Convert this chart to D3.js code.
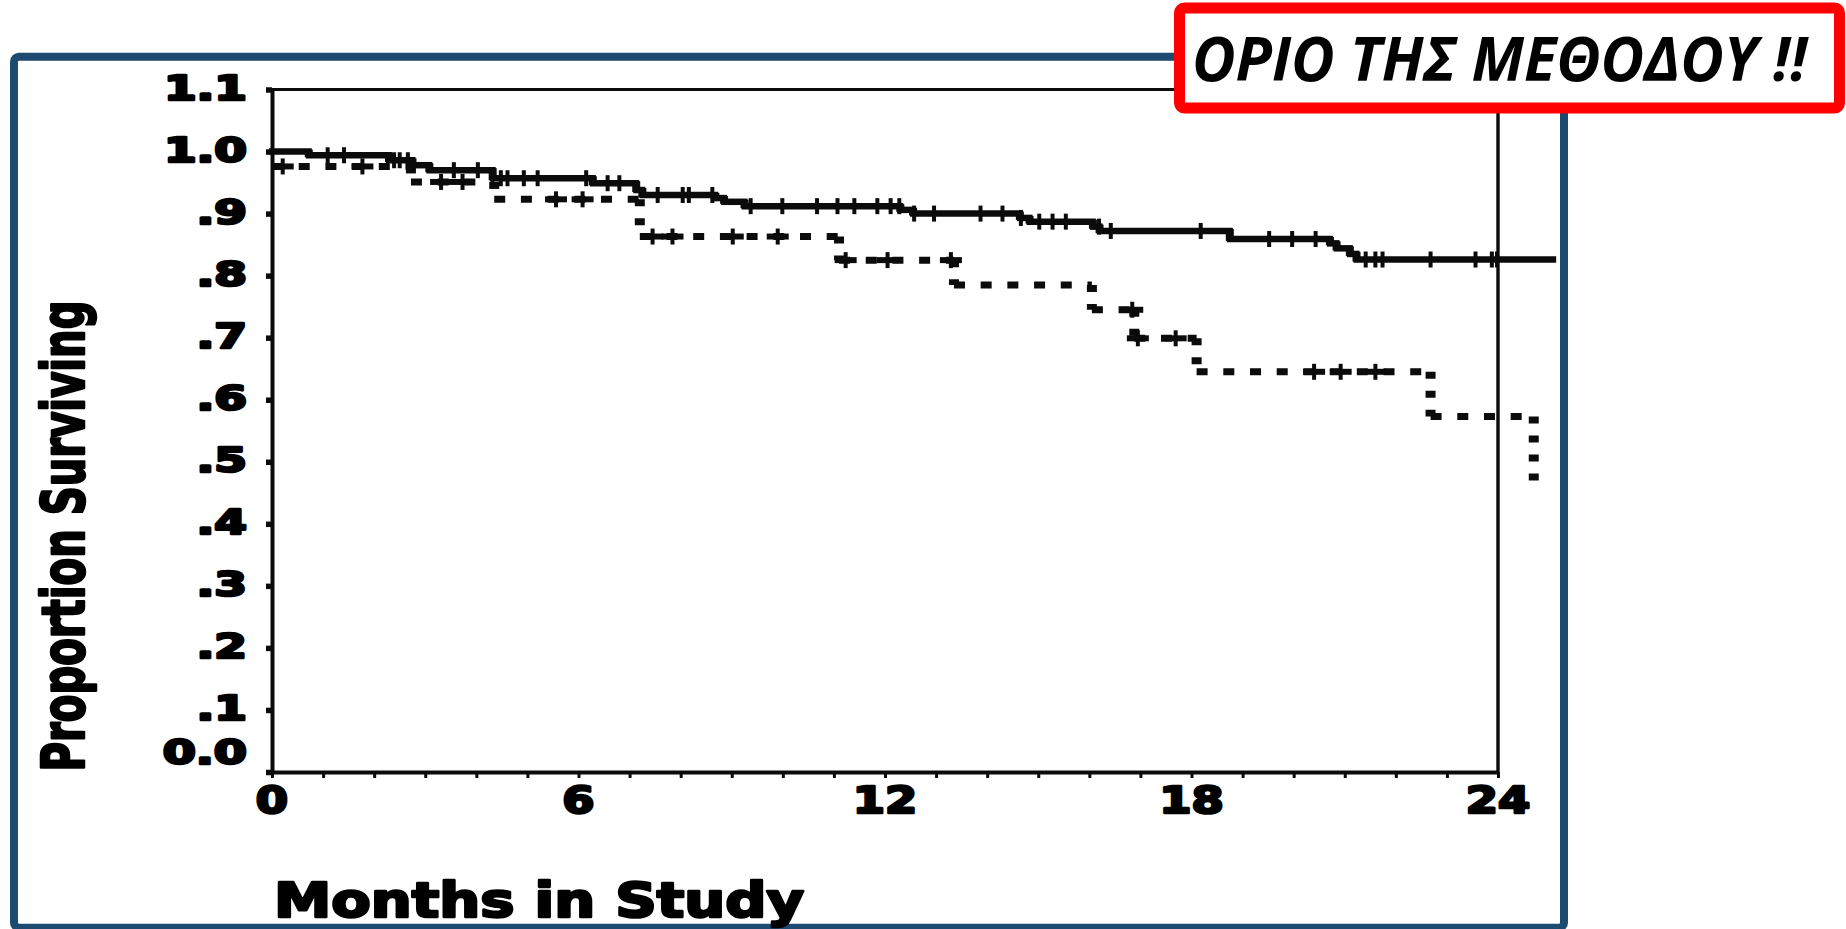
<!DOCTYPE html>
<html>
<head>
<meta charset="utf-8">
<script src="https://cdn.jsdelivr.net/npm/d3@7"></script>
<style>
  html, body { margin: 0; padding: 0; background: #fff; overflow: hidden; }
  svg { display: block; }
</style>
</head>
<body>
<svg id="chart" width="1846" height="929"></svg>
<script>
// Kaplan–Meier steps: month of each step and proportion surviving after it
const solidTimes = [0, 0.72, 2.29, 2.75, 3.08, 4.32, 6.28, 7.13, 7.25, 8.68, 8.85, 9.25, 12.3, 12.55, 14.64, 14.83, 16.07, 16.2, 18.75, 20.71, 20.84, 21.1, 21.23];
const solidSurv  = [1.0, 0.994, 0.986, 0.978, 0.970, 0.957, 0.949, 0.938, 0.930, 0.925, 0.919, 0.912, 0.906, 0.900, 0.893, 0.887, 0.879, 0.872, 0.859, 0.852, 0.844, 0.835, 0.826];
const solidEnd = 25.08;
// censored observations (months)
const solidCensored = [1.09, 1.41, 2.39, 2.5, 2.66, 3.56, 4.03, 4.48, 4.61, 4.93, 5.2, 6.15, 6.57, 6.8, 7.55, 8.04, 8.16, 8.62, 9.37, 9.99, 10.67, 11.07, 11.4, 11.85, 12.11, 12.28, 12.57, 12.96, 13.87, 14.3, 14.66, 15.02, 15.28, 15.54, 16.19, 16.42, 18.18, 19.52, 19.97, 20.43, 21.41, 21.6, 21.74, 22.68, 23.56, 23.88, 23.98];

const dashedTimes = [0, 2.72, 4.35, 7.2, 11.1, 13.35, 16.05, 16.88, 18.1, 22.68, 24.7];
const dashedSurv  = [0.976, 0.951, 0.923, 0.863, 0.825, 0.785, 0.745, 0.699, 0.645, 0.573, 0.46];
const dashedEnd = 24.7;
const dashedCensored = [0.21, 1.77, 3.31, 3.73, 5.56, 6.08, 7.45, 7.84, 9.02, 9.9, 11.23, 12.05, 13.29, 16.84, 16.95, 17.69, 20.4, 20.92, 21.6];

// axes
const xMajorTicks = [0, 6, 12, 18, 24];
const xMajorLabels = ["0", "6", "12", "18", "24"];
const xMinorTicks = d3.range(0, 25);
const yTickValues = [0, 0.1, 0.2, 0.3, 0.4, 0.5, 0.6, 0.7, 0.8, 0.9, 1.0, 1.1];
const yTickLabels = ["0.0", ".1", ".2", ".3", ".4", ".5", ".6", ".7", ".8", ".9", "1.0", "1.1"];

const xTitle = "Months in Study";
const yTitle = "Proportion Surviving";
const banner = "ΟΡΙΟ ΤΗΣ ΜΕΘΟΔΟΥ !!";

const svg = d3.select("#chart");
const ink = "#0b0b0b";
const frameBlue = "#1c4a70";
const heavy = "DejaVu Sans, sans-serif";

const x = d3.scaleLinear().domain([0, 24]).range([272, 1498]);
const y = d3.scaleLinear().domain([0, 1.1]).range([772, 89.5]);

// slide frame
svg.append("rect")
  .attr("x", 14).attr("y", 56.7).attr("width", 1550).attr("height", 871)
  .attr("rx", 5)
  .attr("fill", "#fff").attr("stroke", frameBlue).attr("stroke-width", 8);

const g = svg.append("g");

// plot box: top and right edges
g.append("line")
  .attr("x1", x(0) - 6).attr("x2", x(24))
  .attr("y1", y(1.1)).attr("y2", y(1.1))
  .attr("stroke", ink).attr("stroke-width", 3);
g.append("line")
  .attr("x1", x(24)).attr("x2", x(24))
  .attr("y1", y(1.1)).attr("y2", y(0))
  .attr("stroke", ink).attr("stroke-width", 3.4);

// x axis with monthly ticks
const xAxis = g.append("g")
  .attr("transform", `translate(0,${y(0)})`)
  .call(d3.axisBottom(x).tickValues(xMinorTicks).tickSize(6).tickSizeOuter(0).tickFormat(""));
xAxis.select(".domain").attr("stroke", ink).attr("stroke-width", 4);
xAxis.selectAll(".tick line").attr("stroke", ink).attr("stroke-width", 3);

g.selectAll("text.xlab")
  .data(xMajorTicks)
  .join("text")
  .attr("class", "xlab")
  .attr("transform", d => `translate(${x(d)},813) scale(1.22,1)`)
  .attr("text-anchor", "middle")
  .attr("font-family", heavy)
  .attr("font-weight", "bold")
  .attr("font-size", 38)
  .attr("fill", "#000").attr("stroke", "#000").attr("stroke-width", 2.6)
  .attr("stroke-linejoin", "round")
  .text((d, i) => xMajorLabels[i]);

// y axis
const yAxis = g.append("g")
  .attr("transform", `translate(${x(0)},0)`)
  .call(d3.axisLeft(y).tickValues(yTickValues).tickSize(6).tickSizeOuter(0)
    .tickFormat((d, i) => yTickLabels[i]));
yAxis.select(".domain").attr("stroke", ink).attr("stroke-width", 4);
yAxis.selectAll(".tick line").attr("stroke", ink).attr("stroke-width", 5.5);
yAxis.selectAll(".tick text")
  .attr("x", null).attr("dy", null)
  .attr("transform", d => d === 0 ? "translate(-25,-9) scale(1.4,1)" : "translate(-25,10) scale(1.38,1)")
  .attr("text-anchor", "end")
  .attr("font-family", heavy)
  .attr("font-weight", "bold")
  .attr("font-size", 34)
  .attr("fill", "#000").attr("stroke", "#000").attr("stroke-width", 2.6)
  .attr("stroke-linejoin", "round");

// survival step curves
function stepSegments(times, surv, end) {
  const h = [], v = [];
  for (let i = 0; i < times.length; i++) {
    const t1 = i + 1 < times.length ? times[i + 1] : end;
    if (t1 > times[i]) h.push({ t0: times[i], t1: t1, s: surv[i] });
    if (i > 0) v.push({ t: times[i], s0: surv[i - 1], s1: surv[i] });
  }
  return { h, v };
}
function survAt(times, surv, t) {
  let s = surv[0];
  for (let i = 0; i < times.length; i++) if (times[i] <= t) s = surv[i];
  return s;
}

const solid = stepSegments(solidTimes, solidSurv, solidEnd);
g.append("g").selectAll("line")
  .data(solid.h).join("line")
  .attr("x1", d => x(d.t0) - 3).attr("x2", d => x(d.t1) + 3)
  .attr("y1", d => y(d.s)).attr("y2", d => y(d.s))
  .attr("stroke", ink).attr("stroke-width", 6.5);
g.append("g").selectAll("line")
  .data(solid.v).join("line")
  .attr("x1", d => x(d.t)).attr("x2", d => x(d.t))
  .attr("y1", d => y(d.s0) - 2).attr("y2", d => y(d.s1) + 2)
  .attr("stroke", ink).attr("stroke-width", 8);
g.append("g").selectAll("line")
  .data(solidCensored).join("line")
  .attr("x1", d => x(d)).attr("x2", d => x(d))
  .attr("y1", d => y(survAt(solidTimes, solidSurv, d)) - 8)
  .attr("y2", d => y(survAt(solidTimes, solidSurv, d)) + 8)
  .attr("stroke", ink).attr("stroke-width", 4);

const dashed = stepSegments(dashedTimes, dashedSurv, dashedEnd);
g.append("g").selectAll("line")
  .data(dashed.h).join("line")
  .attr("x1", d => x(d.t0)).attr("x2", d => x(d.t1))
  .attr("y1", d => y(d.s)).attr("y2", d => y(d.s))
  .attr("stroke", ink).attr("stroke-width", 7)
  .attr("stroke-dasharray", "11 15.7");
g.append("g").selectAll("line")
  .data(dashed.v).join("line")
  .attr("x1", d => x(d.t)).attr("x2", d => x(d.t))
  .attr("y1", d => y(d.s0)).attr("y2", d => y(d.s1))
  .attr("stroke", ink).attr("stroke-width", 10)
  .attr("stroke-dasharray", "7 12");
const dc = g.append("g").selectAll("g")
  .data(dashedCensored).join("g")
  .attr("transform", d => `translate(${x(d)},${y(survAt(dashedTimes, dashedSurv, d))})`);
dc.append("line").attr("x1", -11).attr("x2", 11).attr("y1", 0).attr("y2", 0)
  .attr("stroke", ink).attr("stroke-width", 6);
dc.append("line").attr("x1", 0).attr("x2", 0).attr("y1", -8).attr("y2", 8)
  .attr("stroke", ink).attr("stroke-width", 4);

// axis titles
svg.append("text")
  .attr("transform", "translate(84,536) rotate(-90)")
  .attr("text-anchor", "middle")
  .attr("font-family", heavy)
  .attr("font-weight", "bold")
  .attr("font-size", 58)
  .attr("textLength", 471).attr("lengthAdjust", "spacingAndGlyphs")
  .attr("fill", "#000").attr("stroke", "#000").attr("stroke-width", 2.5)
  .attr("stroke-linejoin", "round")
  .text(yTitle);

svg.append("text")
  .attr("x", 274).attr("y", 917)
  .attr("font-family", heavy)
  .attr("font-weight", "bold")
  .attr("font-size", 48)
  .attr("textLength", 530).attr("lengthAdjust", "spacingAndGlyphs")
  .attr("fill", "#000").attr("stroke", "#000").attr("stroke-width", 2.6)
  .attr("stroke-linejoin", "round")
  .text(xTitle);

// callout box
svg.append("rect")
  .attr("x", 1179.5).attr("y", 8).attr("width", 660).attr("height", 100)
  .attr("rx", 5)
  .attr("fill", "#fff").attr("stroke", "#ff0000").attr("stroke-width", 11);
svg.append("text")
  .attr("x", 1192).attr("y", 81)
  .attr("font-family", "Open Sans, Liberation Sans, sans-serif")
  .attr("font-weight", "bold").attr("font-style", "italic")
  .attr("font-size", 61)
  .attr("textLength", 615).attr("lengthAdjust", "spacingAndGlyphs")
  .attr("fill", "#000")
  .text(banner);
</script>
</body>
</html>
